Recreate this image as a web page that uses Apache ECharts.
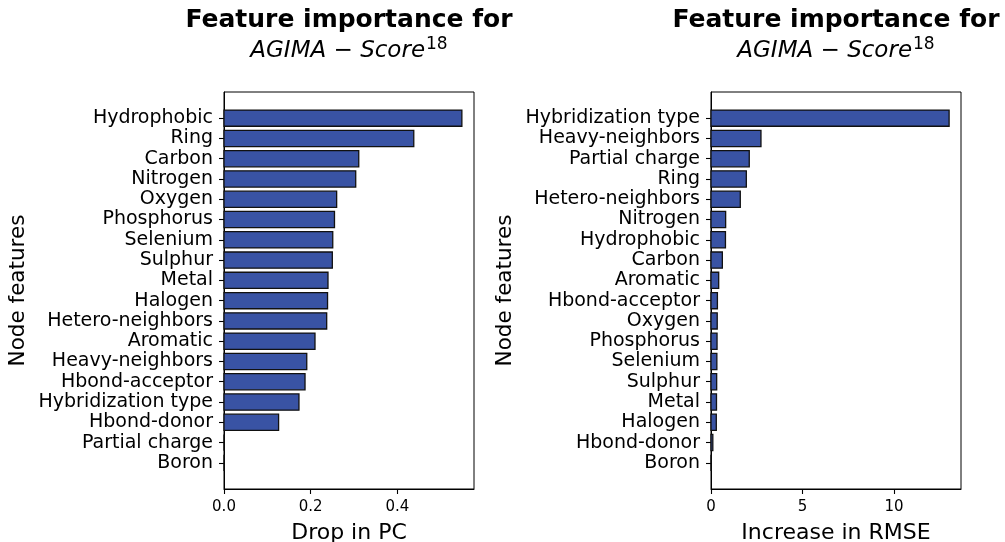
<!DOCTYPE html>
<html>
<head>
<meta charset="utf-8">
<script src="https://cdn.jsdelivr.net/npm/echarts@6/dist/echarts.min.js"></script>
<style>
html,body{margin:0;padding:0;background:#fff;}
#main{width:1005px;height:542px;}
</style>
</head>
<body>
<div id="main"></div>
<script>
// ---- data ----
const leftCats = ['Hydrophobic','Ring','Carbon','Nitrogen','Oxygen','Phosphorus','Selenium','Sulphur','Metal','Halogen','Hetero-neighbors','Aromatic','Heavy-neighbors','Hbond-acceptor','Hybridization type','Hbond-donor','Partial charge','Boron'];
const leftValues = [0.549,0.438,0.311,0.304,0.260,0.255,0.251,0.250,0.240,0.239,0.237,0.210,0.191,0.187,0.173,0.126,0,0];
const rightCats = ['Hybridization type','Heavy-neighbors','Partial charge','Ring','Hetero-neighbors','Nitrogen','Hydrophobic','Carbon','Aromatic','Hbond-acceptor','Oxygen','Phosphorus','Selenium','Sulphur','Metal','Halogen','Hbond-donor','Boron'];
const rightValues = [13.01,2.73,2.09,1.93,1.60,0.80,0.79,0.62,0.42,0.35,0.34,0.33,0.32,0.31,0.30,0.29,0.10,0];
const leftTicks = [0, 0.2, 0.4];
const rightTicks = [0, 5, 10];
const titleLine1 = 'Feature importance for';
const titleMath = 'AGIMA − Score';
const titleSup = '18';

// ---- chart ----
const chart = echarts.init(document.getElementById('main'), null, {renderer:'canvas'});
const FONT = 'DejaVu Sans';
const BAR_FILL = '#3953A4';
const idx = leftCats.map((_, i) => i);

function renderBar(params, api) {
  const v = api.value(0), i = api.value(1);
  const p0 = api.coord([0, i]);
  const p1 = api.coord([v, i]);
  const h = api.size([0, 0.8])[1];
  return {
    type: 'rect',
    shape: {x: p0[0], y: p0[1] - h / 2, width: p1[0] - p0[0], height: h},
    style: {fill: BAR_FILL, stroke: '#111', lineWidth: 1.3}
  };
}

function yAxisFor(gridIndex, cats) {
  return {
    gridIndex, type: 'value', min: -1.29, max: 18.29, inverse: true,
    name: 'Node features', nameLocation: 'middle', nameGap: 195,
    nameTextStyle: {fontFamily: FONT, fontSize: 21.5, color: '#000'},
    axisLine: {show: true, lineStyle: {color: '#000', width: 1}},
    axisTick: {show: true, length: 5, customValues: idx, lineStyle: {color: '#000', width: 1.1}},
    axisLabel: {customValues: idx, margin: 11, fontFamily: FONT, fontSize: 19, color: '#000',
      formatter: v => cats[Math.round(v)]},
    splitLine: {show: false}
  };
}
function xAxisFor(gridIndex, max, ticks, name, fmt) {
  return {
    gridIndex, type: 'value', min: 0, max: max,
    name: name, nameLocation: 'middle', nameGap: 33,
    nameTextStyle: {fontFamily: FONT, fontSize: 22, color: '#000'},
    axisLine: {show: true, onZero: false, lineStyle: {color: '#000', width: 1}},
    axisTick: {show: true, length: 5, customValues: ticks, lineStyle: {color: '#000', width: 1.1}},
    axisLabel: {customValues: ticks, margin: 11, fontFamily: FONT, fontSize: 15, color: '#000', formatter: fmt},
    splitLine: {show: false}
  };
}
function titleGraphic(cx) {
  return {
    type: 'text', x: cx, y: 5,
    style: {
      text: '{b|' + titleLine1 + '}\n{i|' + titleMath + '}{s|' + titleSup + '}',
      textAlign: 'center', textVerticalAlign: 'top',
      rich: {
        b: {fontFamily: FONT, fontWeight: 'bold', fontSize: 25, lineHeight: 31, fill: '#000', align: 'center'},
        i: {fontFamily: FONT, fontStyle: 'italic', fontSize: 23, lineHeight: 30, fill: '#000'},
        s: {fontFamily: FONT, fontSize: 17, lineHeight: 6, verticalAlign: 'top', fill: '#000', padding: [0, 0, 0, 1]}
      }
    }
  };
}

const option = {
  backgroundColor: '#fff',
  animation: false,
  grid: [
    {left: 224, top: 92, width: 250, height: 397, show: true, borderColor: '#000', borderWidth: 1, backgroundColor: 'transparent', outerBoundsMode: 'none', containLabel: false},
    {left: 711, top: 92, width: 250, height: 397, show: true, borderColor: '#000', borderWidth: 1, backgroundColor: 'transparent', outerBoundsMode: 'none', containLabel: false}
  ],
  xAxis: [
    xAxisFor(0, 0.577, leftTicks, 'Drop in PC', v => v.toFixed(1)),
    xAxisFor(1, 13.66, rightTicks, 'Increase in RMSE', v => String(v))
  ],
  yAxis: [yAxisFor(0, leftCats), yAxisFor(1, rightCats)],
  series: [
    {type: 'custom', xAxisIndex: 0, yAxisIndex: 0, renderItem: renderBar,
      data: leftValues.map((v, i) => [v, i]), clip: false},
    {type: 'custom', xAxisIndex: 1, yAxisIndex: 1, renderItem: renderBar,
      data: rightValues.map((v, i) => [v, i]), clip: false}
  ],
  graphic: [titleGraphic(349), titleGraphic(836)]
};
chart.setOption(option);
</script>
</body>
</html>
